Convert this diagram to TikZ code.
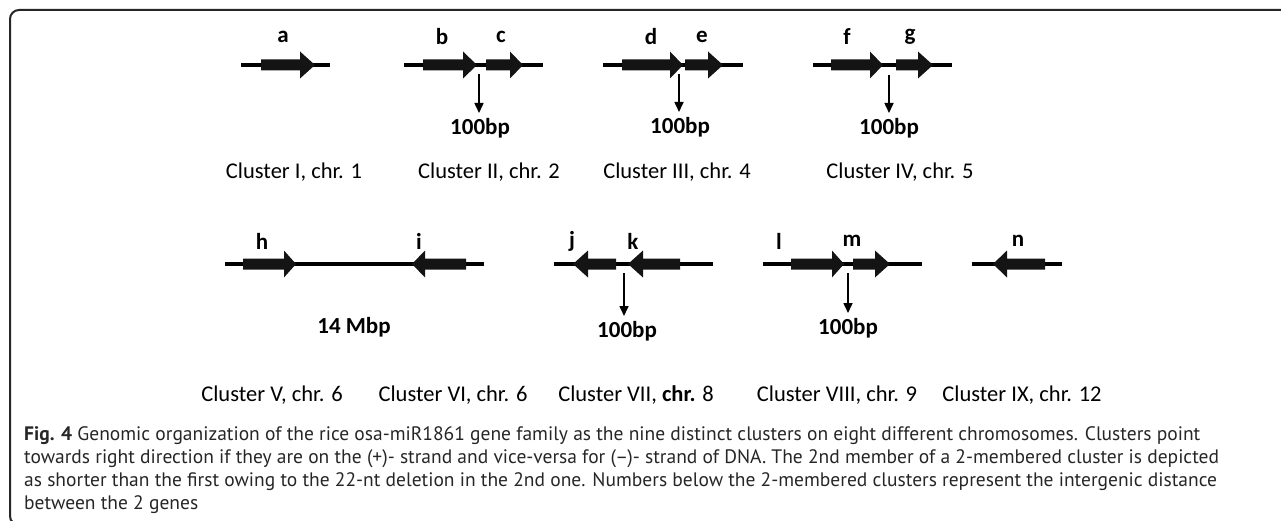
\documentclass[tikz,border=0pt]{standalone}
\usepackage{fontspec}
\usetikzlibrary{arrows.meta}
\newfontfamily\carlito{Carlito}
\newfontfamily\capfont{PT Sans}
\definecolor{genecol}{HTML}{141414}
\newcommand{\genefwd}[4]{\fill[genecol] (#2,#1-5.5) -- (#3,#1-5.5) -- (#3,#1-13.5) -- (#4,#1) -- (#3,#1+13.5) -- (#3,#1+5.5) -- (#2,#1+5.5) -- cycle;}
\newcommand{\generev}[4]{\fill[genecol] (#2,#1-5.5) -- (#3,#1-5.5) -- (#3,#1-13.5) -- (#4,#1) -- (#3,#1+13.5) -- (#3,#1+5.5) -- (#2,#1+5.5) -- cycle;}
\tikzset{
  strand/.style={line width=3.5pt, black},
  lab/.style={font=\carlito\bfseries\fontsize{23}{26}\selectfont, inner sep=0pt},
  bplab/.style={font=\carlito\bfseries\fontsize{23}{26}\selectfont, anchor=north, inner xsep=0pt, inner ysep=5pt},
  clab/.style={font=\carlito\fontsize{22.5}{26}\selectfont, inner sep=0pt},
  varrow/.style={line width=1.6pt, -{Triangle[width=9pt,length=10pt]}},
  capline/.style={font=\capfont\fontsize{19.5}{22}\selectfont, anchor=base west, inner sep=0pt, text=black!85},
  frame/.style={line width=2pt, black!85}
}
\begin{document}
\begin{tikzpicture}[x=1pt,y=-1pt]
\useasboundingbox (0,0) rectangle (1281,521);
% frame
\draw[frame, rounded corners=9pt] (1285,10) -- (10,10) -- (10,525) -- (60,525);
% ---------- row 1 ----------
\coordinate (sa1) at (241,65); \coordinate (sa2) at (330,65);
\draw[strand] (sa1) -- (sa2);
\genefwd{65}{261}{300}{315}
\node[lab] (la) at (283,37) {a};
\coordinate (sb1) at (404,65); \coordinate (sb2) at (543,65);
\draw[strand] (sb1) -- (sb2);
\genefwd{65}{423}{463}{477}
\genefwd{65}{486}{510}{523}
\node[lab] (lb) at (442,37) {b};
\node[lab] (lc) at (501,37) {c};
\coordinate (gbc) at (479,74);
\node[bplab] (bp1) at (480,113) {100bp};
\draw[varrow] (gbc) -- (gbc |- bp1.north);
\coordinate (sd1) at (603,65); \coordinate (sd2) at (743,65);
\draw[strand] (sd1) -- (sd2);
\genefwd{65}{622}{670}{683}
\genefwd{65}{685}{708}{723}
\node[lab] (ld) at (651,37) {d};
\node[lab] (le) at (702,37) {e};
\coordinate (gde) at (679,74);
\node[bplab] (bp2) at (680,112) {100bp};
\draw[varrow] (gde) -- (gde |- bp2.north);
\coordinate (sf1) at (813,65); \coordinate (sf2) at (952,65);
\draw[strand] (sf1) -- (sf2);
\genefwd{65}{831}{870}{883}
\genefwd{65}{896}{918}{933}
\node[lab] (lf) at (847,37) {f};
\node[lab] (lg) at (910,37) {g};
\coordinate (gfg) at (889,75);
\node[bplab] (bp3) at (889,113) {100bp};
\draw[varrow] (gfg) -- (gfg |- bp3.north);
\node[clab] (c1) at (294,172) {Cluster I, chr. 1};
\node[clab] (c2) at (489,172) {Cluster II, chr. 2};
\node[clab] (c3) at (677,172) {Cluster III, chr. 4};
\node[clab] (c4) at (900,172) {Cluster IV, chr. 5};
% ---------- row 2 ----------
\coordinate (sh1) at (225,264); \coordinate (sh2) at (484,264);
\draw[strand] (sh1) -- (sh2);
\genefwd{264}{243}{284}{296}
\generev{264}{466}{425}{412}
\node[lab] (lh) at (262,241) {h};
\node[lab] (li) at (419,241) {i};
\node[lab] (mb) at (354,327) {14 Mbp};
\coordinate (sj1) at (554,264); \coordinate (sj2) at (713,264);
\draw[strand] (sj1) -- (sj2);
\generev{264}{616}{588}{573}
\generev{264}{680}{643}{628}
\node[lab] (lj) at (572,241) {j};
\node[lab] (lk) at (633,241) {k};
\coordinate (gjk) at (624,273);
\node[bplab] (bp4) at (627,316) {100bp};
\draw[varrow] (gjk) -- (gjk |- bp4.north);
\coordinate (sl1) at (763,264); \coordinate (sl2) at (922,264);
\draw[strand] (sl1) -- (sl2);
\genefwd{264}{791}{832}{844}
\genefwd{264}{853}{875}{890}
\node[lab] (ll) at (779,241) {l};
\node[lab] (lm) at (852,241) {m};
\coordinate (glm) at (848,273);
\node[bplab] (bp5) at (848,313) {100bp};
\draw[varrow] (glm) -- (glm |- bp5.north);
\coordinate (sn1) at (972,264); \coordinate (sn2) at (1062,264);
\draw[strand] (sn1) -- (sn2);
\generev{264}{1045}{1007}{993}
\node[lab] (ln) at (1018,241) {n};
\node[clab] (c5) at (272,395) {Cluster V, chr. 6};
\node[clab] (c6) at (453,395) {Cluster VI, chr. 6};
\node[clab] (c7) at (636,395) {Cluster VII, {\bfseries chr.} 8};
\node[clab] (c8) at (837,395) {Cluster VIII, chr. 9};
\node[clab] (c9) at (1022,395) {Cluster IX, chr. 12};
% ---------- caption ----------
\node[capline] (cap1) at (24,440) {\textbf{Fig. 4} Genomic organization of the rice osa-miR1861 gene family as the nine distinct clusters on eight different chromosomes. Clusters point};
\node[capline] (cap2) at (24,463) {towards right direction if they are on the (+)- strand and vice-versa for (–)- strand of DNA. The 2nd member of a 2-membered cluster is depicted};
\node[capline] (cap3) at (24,486) {as shorter than the first owing to the 22-nt deletion in the 2nd one. Numbers below the 2-membered clusters represent the intergenic distance};
\node[capline] (cap4) at (24,509) {between the 2 genes};
\end{tikzpicture}
\end{document}
